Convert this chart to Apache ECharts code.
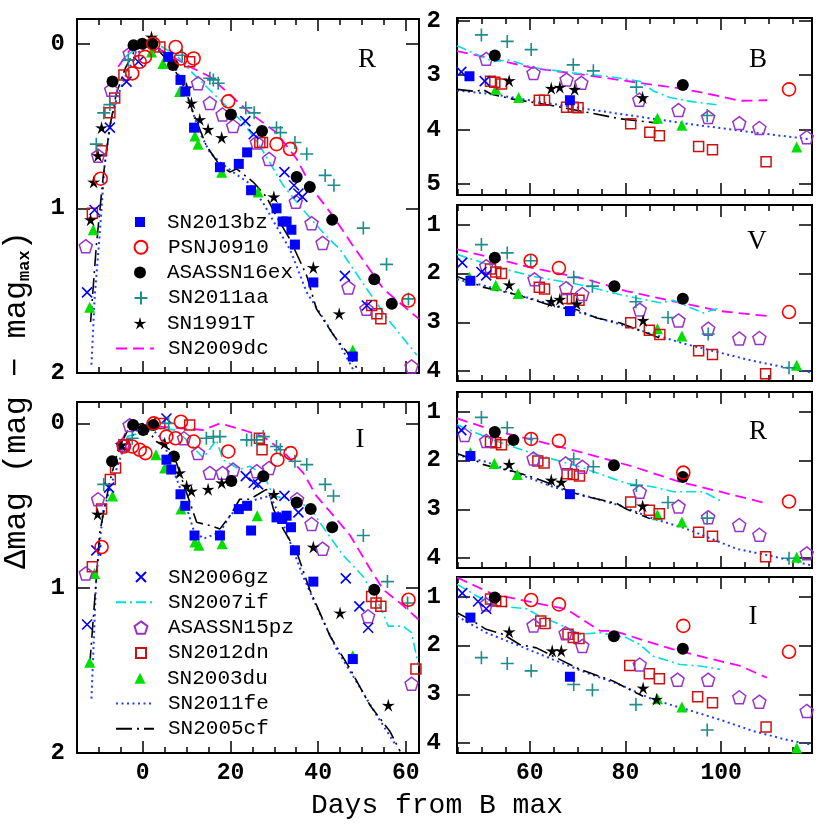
<!DOCTYPE html>
<html><head><meta charset="utf-8">
<script src="https://cdn.jsdelivr.net/npm/echarts@6/dist/echarts.min.js"></script>
<style>html,body{margin:0;padding:0;background:#fff}#c{width:830px;height:830px}</style>
</head><body><div id="c"></div>
<script>
// ===== DATA: [days from B max, delta mag] =====
// Left R panel
const LR_13bz=[[5.8,0.08],[8.6,0.22],[9.7,0.29],[11.7,0.51],[17.6,0.75],[21.9,0.73],[23.8,0.66],[24.7,0.89],[30.5,1.00],[31.9,1.08],[32.8,1.08],[33.9,1.13],[34.7,1.22],[38.9,1.45],[47.9,1.90]];
const LR_psn=[[-9.6,0.82],[-2.4,0.18],[-0.7,0.11],[0.5,0.08],[2.4,0.0],[7.5,0.02],[8.7,0.09],[11.6,0.09],[19.5,0.35],[30.5,0.61],[33.6,0.64],[60.6,1.56]];
const LR_16ex=[[-6.9,0.23],[-2.1,0.01],[-0.1,0.0],[2.2,0.0],[6.9,0.13],[20.1,0.43],[27.2,0.53],[35.1,0.81],[38.1,0.87],[43.2,1.07],[52.8,1.43],[56.8,1.58]];
const LR_11aa=[[-10.6,0.61],[-8.9,0.42],[-7.5,0.37],[-3.3,0.10],[9.0,0.07],[15.3,0.21],[16.1,0.22],[17.2,0.24],[23.5,0.39],[25.4,0.42],[30.5,0.51],[31.4,0.54],[34.7,0.60],[37.4,0.67],[41.6,0.80],[43.6,0.86],[50.3,1.12],[55.6,1.34],[60.6,1.55]];
const LR_91T=[[-11.9,1.07],[-11.2,0.84],[-10.2,0.68],[-9.4,0.51],[2.0,-0.04],[10.0,0.27],[11.1,0.36],[13.0,0.46],[14.9,0.52],[18.0,0.57],[29.9,0.93],[38.9,1.36],[44.8,1.64]];
const LR_06gz=[[-12.7,1.51],[-11.0,1.01],[-7.5,0.51],[-3.7,0.23],[-1.0,0.11],[23.4,0.47],[25.3,0.55],[32.3,0.78],[34.5,0.86],[35.5,0.91],[36.4,0.93],[46.1,1.41],[51.1,1.59]];
const LR_15pz=[[-13.0,1.23],[-10.2,0.68],[-7.2,0.28],[-3.0,0.06],[12.6,0.24],[15.3,0.36],[18.2,0.43],[20.6,0.50],[26.0,0.60],[28.8,0.70],[34.9,0.96],[38.5,1.09],[41.0,1.21],[46.9,1.48],[51.0,1.61],[61.3,1.96]];
const LR_12dn=[[-11.5,1.03],[-9.4,0.65],[-7.5,0.42],[-6.4,0.33],[-4.3,0.19],[3.9,0.02],[10.7,0.11],[26.7,0.60],[27.3,0.60],[52.2,1.59],[53.4,1.64],[54.3,1.67]];
const LR_03du=[[-12.1,1.60],[-11.3,1.13],[2.0,0.05],[4.6,0.12],[8.4,0.29],[11.9,0.56],[12.6,0.61],[18.0,0.78],[26.3,0.90],[47.9,1.86]];
const LR_09dc=[[-5.6,0.14],[-3.0,0.04],[1.6,0.0],[10.7,0.14],[15.3,0.20],[19.9,0.31],[24.4,0.42],[30.5,0.54],[35.1,0.70],[38.9,0.89],[43.5,1.05],[48.0,1.23],[54.9,1.49],[62.9,1.67]];
const LR_07if=[[-4.0,0.08],[-1.0,0.02],[3.1,0.0],[7.7,0.07],[10.7,0.16],[14.5,0.26],[18.3,0.36],[22.9,0.48],[26.7,0.62],[32.0,0.86],[36.6,1.01],[41.2,1.15],[45.0,1.25],[51.1,1.49],[56.4,1.69],[62.5,1.89]];
const LR_11fe=[[-11.7,1.95],[-11.0,1.55],[-9.8,1.15],[-8.7,0.74],[-7.5,0.50],[-6.0,0.34],[-3.7,0.18],[-1.4,0.06],[0.8,0.02],[3.9,0.03],[6.2,0.09],[8.4,0.20],[10.7,0.36],[13.0,0.54],[15.3,0.66],[17.6,0.72],[20.6,0.78],[24.4,0.85],[27.5,0.97],[30.5,1.11],[33.6,1.25],[37.4,1.51],[41.2,1.67],[45.0,1.83],[48.0,1.98]];
const LR_05cf=[[-11.9,1.69],[-10.6,1.23],[-9.0,0.80],[-7.5,0.50],[-6.0,0.30],[-4.0,0.15],[-2.0,0.05],[1.6,-0.02],[6.2,0.12],[9.2,0.24],[11.5,0.42],[14.5,0.62],[17.6,0.74],[19.9,0.78],[21.4,0.76],[25.2,0.84],[28.2,0.93],[30.5,1.05],[33.6,1.19],[37.4,1.41],[39.6,1.61],[43.5,1.77],[46.5,1.87],[49.5,2.0]];
// Left I panel
const LI_13bz=[[5.4,0.22],[6.5,0.28],[8.6,0.43],[9.7,0.50],[11.8,0.68],[17.6,0.68],[21.9,0.52],[23.8,0.50],[24.7,0.65],[30.5,0.57],[31.8,0.58],[32.8,0.56],[33.8,0.63],[34.7,0.77],[38.9,0.96],[47.9,1.43]];
const LI_psn=[[-9.4,0.75],[-4.3,0.14],[-2.4,0.14],[-0.7,0.16],[0.6,0.18],[2.5,0.0],[5.4,0.08],[7.5,0.09],[8.7,-0.01],[11.6,0.11],[19.5,0.17],[30.7,0.22],[33.7,0.18],[60.6,1.07]];
const LI_16ex=[[-7.0,0.23],[-2.2,0.01],[0.1,0.04],[2.4,0.01],[7.1,0.20],[20.2,0.35],[27.5,0.32],[35.1,0.48],[38.3,0.52],[43.2,0.63],[52.8,1.01]];
const LI_11aa=[[-8.9,0.37],[-2.4,0.09],[1.0,0.03],[5.9,0.0],[14.5,0.09],[16.1,0.08],[17.6,0.08],[23.7,0.10],[24.8,0.10],[26.0,0.10],[27.5,0.08],[30.5,0.14],[31.4,0.16],[34.7,0.23],[37.4,0.25],[41.6,0.37],[43.5,0.44],[50.3,0.68],[55.8,0.96],[60.4,1.09]];
const LI_91T=[[-10.3,0.55],[-4.9,0.13],[5.0,0.12],[8.4,0.30],[10.0,0.38],[11.1,0.41],[14.9,0.40],[18.0,0.36],[29.9,0.43],[38.9,0.75],[45.0,1.15],[56.0,1.71]];
const LI_06gz=[[-12.7,1.22],[-10.6,0.77],[-7.7,0.39],[-4.5,0.14],[5.4,-0.03],[23.5,0.32],[25.3,0.36],[26.3,0.37],[32.3,0.44],[35.5,0.54],[46.3,0.94],[49.4,1.11],[51.4,1.24]];
const LI_15pz=[[-13.0,0.91],[-10.2,0.46],[-4.5,0.13],[-3.0,0.01],[9.4,0.09],[12.6,0.18],[15.3,0.30],[18.2,0.30],[20.6,0.28],[26.0,0.29],[28.8,0.27],[35.2,0.46],[38.5,0.61],[41.0,0.76],[51.4,1.17],[61.3,1.58]];
const LI_12dn=[[-11.5,0.87],[-9.4,0.52],[-7.4,0.34],[-6.2,0.27],[-4.3,0.13],[3.9,0.0],[10.7,0.01],[26.6,0.09],[27.2,0.16],[52.2,1.05],[53.2,1.09],[54.3,1.11],[62.3,1.49]];
const LI_03du=[[-12.1,1.45],[-11.0,0.91],[-6.9,0.44],[3.0,0.19],[5.0,0.27],[8.7,0.52],[11.9,0.72],[12.8,0.74],[18.1,0.73],[26.1,0.56],[47.9,1.41]];
const LI_09dc=[[-5.0,0.12],[-3.0,0.0],[3.9,0.02],[13.8,0.04],[17.6,0.0],[22.9,0.04],[27.5,0.08],[32.0,0.17],[36.6,0.30],[39.6,0.44],[43.5,0.56],[47.3,0.68],[51.8,0.88],[54.9,1.01],[58.7,1.09],[62.9,1.19]];
const LI_07if=[[-3.7,0.08],[3.1,0.03],[7.7,0.04],[10.7,0.12],[13.8,0.21],[16.8,0.10],[18.3,0.22],[22.1,0.28],[24.4,0.26],[27.5,0.31],[29.8,0.44],[33.6,0.46],[38.1,0.51],[41.9,0.66],[45.7,0.80],[50.3,0.93],[54.1,1.11],[56.0,1.23],[59.4,1.23],[61.3,1.27],[62.9,1.47]];
const LI_11fe=[[-11.7,1.67],[-10.6,0.93],[-9.1,0.54],[-6.8,0.34],[-4.5,0.16],[-1.4,0.04],[1.6,0.02],[4.6,0.10],[6.9,0.28],[9.2,0.44],[11.5,0.64],[13.8,0.70],[17.6,0.66],[19.9,0.56],[22.1,0.50],[26.0,0.46],[29.0,0.44],[31.3,0.56],[33.6,0.72],[36.6,0.93],[39.6,1.11],[44.2,1.37],[48.8,1.57],[53.3,1.77],[57.9,1.96]];
const LI_05cf=[[-12.1,1.47],[-9.8,0.66],[-7.5,0.35],[-5.5,0.15],[-3.0,0.02],[0.0,0.0],[3.1,0.11],[6.2,0.16],[7.7,0.24],[9.2,0.36],[12.3,0.60],[15.3,0.62],[17.6,0.64],[19.9,0.56],[22.1,0.46],[24.4,0.46],[28.2,0.40],[29.0,0.44],[29.8,0.52],[32.0,0.64],[35.1,0.78],[38.1,1.01],[42.7,1.29],[47.3,1.49],[51.8,1.71],[56.4,1.87],[58.7,1.99]];
// Right B panel
const RB_13bz=[[47.4,3.02],[68.4,3.46]];
const RB_06gz=[[45.7,2.94],[50.6,3.11]];
const RB_psn=[[114.2,3.26]];
const RB_16ex=[[52.7,2.64],[92.0,3.18]];
const RB_11aa=[[49.9,2.26],[55.3,2.38],[60.3,2.53],[69.1,2.81],[73.3,2.92],[82.3,3.22],[97.1,3.74]];
const RB_91T=[[55.7,3.10],[64.5,3.24],[66.3,3.22],[69.4,3.26],[83.6,3.41]];
const RB_15pz=[[50.9,2.70],[60.8,2.96],[67.7,3.08],[70.8,3.14],[82.9,3.45],[91.1,3.64],[97.3,3.77],[103.8,3.88],[108.0,3.97],[117.9,4.14]];
const RB_12dn=[[51.8,3.11],[52.7,3.13],[54.1,3.16],[62.0,3.46],[63.1,3.46],[67.7,3.59],[69.1,3.59],[70.1,3.60],[81.1,3.89],[85.1,4.05],[87.1,4.11],[95.3,4.31],[98.2,4.37],[109.4,4.59]];
const RB_03du=[[52.9,3.26],[57.7,3.41],[86.7,3.79],[91.8,3.92],[115.8,4.32]];
const RB_09dc=[[44.8,2.56],[50.9,2.67],[60.7,2.87],[71.9,3.00],[84.4,3.16],[91.4,3.24],[97.7,3.35],[104.0,3.47],[109.6,3.46]];
const RB_07if=[[44.8,2.46],[52.3,2.75],[55.8,2.72],[60.7,2.86],[69.1,2.96],[76.1,3.02],[83.0,3.11],[85.8,3.29],[89.3,3.41],[94.2,3.49],[99.8,3.55]];
const RB_11fe=[[44.8,3.28],[52.3,3.35],[64.9,3.53],[78.8,3.71],[92.8,3.89],[106.7,4.05],[119.0,4.18]];
const RB_05cf=[[44.8,3.26],[48.8,3.30],[50.2,3.26],[52.0,3.35],[56.5,3.44],[64.9,3.56],[71.9,3.68],[78.8,3.80],[86.9,3.88]];
// Right V panel
const RV_13bz=[[47.6,2.15],[68.4,2.77]];
const RV_06gz=[[45.9,1.78],[49.9,1.97],[50.9,2.04]];
const RV_psn=[[60.2,1.74],[66.1,1.89],[114.2,2.79]];
const RV_16ex=[[52.7,1.68],[77.7,2.26],[92.0,2.52]];
const RV_11aa=[[49.9,1.41],[55.3,1.58],[60.2,1.74],[69.2,2.08],[73.1,2.26],[82.2,2.58],[88.9,2.90],[97.3,3.24],[114.2,3.93]];
const RV_91T=[[55.7,2.23],[64.5,2.57],[66.3,2.53],[69.8,2.62],[83.7,2.96]];
const RV_15pz=[[50.9,1.85],[61.0,2.12],[67.6,2.30],[71.0,2.42],[83.0,2.74],[91.1,2.96],[97.3,3.13],[103.8,3.33],[108.0,3.32]];
const RV_12dn=[[51.8,1.91],[52.9,1.97],[54.1,2.00],[62.0,2.28],[63.1,2.32],[67.7,2.51],[68.9,2.52],[70.3,2.55],[81.1,3.01],[85.0,3.16],[87.2,3.25],[95.3,3.58],[98.2,3.66],[109.3,4.05]];
const RV_03du=[[47.4,2.08],[52.9,2.24],[57.6,2.41],[86.7,3.13],[91.8,3.28],[115.8,3.88]];
const RV_09dc=[[44.8,1.51],[52.3,1.68],[60.7,1.89],[71.9,2.12],[80.2,2.36],[90.0,2.57],[99.8,2.77],[109.6,2.87]];
const RV_07if=[[44.8,1.61],[52.3,1.85],[60.7,2.06],[70.5,2.23],[78.8,2.43],[85.8,2.57],[87.2,2.60],[90.0,2.55],[96.3,2.81],[99.8,2.70]];
const RV_11fe=[[44.8,2.12],[50.9,2.26],[64.9,2.64],[78.8,3.04],[92.8,3.45],[106.7,3.79],[119.0,4.03]];
const RV_05cf=[[44.8,2.06],[48.1,2.19],[50.2,2.28],[52.3,2.33],[57.2,2.43],[64.9,2.67],[69.8,2.74],[74.0,2.91],[78.8,3.01],[87.2,3.32]];
// Right R panel
const RR_13bz=[[47.6,1.91],[68.4,2.69]];
const RR_06gz=[[45.7,1.38]];
const RR_psn=[[60.3,1.56],[66.1,1.60],[92.1,2.25],[114.2,2.84]];
const RR_16ex=[[52.7,1.42],[56.6,1.58],[77.6,2.10],[92.0,2.34]];
const RR_11aa=[[49.9,1.12],[55.3,1.33],[60.3,1.55],[69.2,1.97],[73.3,2.13],[82.3,2.51],[88.9,2.86],[97.1,3.18],[114.2,4.0]];
const RR_91T=[[55.7,2.08],[64.5,2.40],[66.6,2.44],[83.6,2.93]];
const RR_15pz=[[46.4,1.48],[50.9,1.60],[60.8,1.96],[67.5,2.06],[71.0,2.13],[83.0,2.64],[91.1,2.94],[97.3,3.16],[103.8,3.32],[108.0,3.52],[117.9,3.90]];
const RR_12dn=[[51.8,1.62],[52.9,1.64],[54.1,1.68],[61.7,2.01],[63.0,2.05],[67.8,2.27],[69.1,2.29],[70.4,2.32],[81.1,2.85],[85.0,3.02],[87.1,3.09],[95.3,3.47],[98.2,3.55],[109.3,3.97]];
const RR_03du=[[47.6,1.84],[52.6,2.06],[57.4,2.29],[86.7,3.11],[91.8,3.26],[115.8,3.98]];
const RR_09dc=[[44.8,1.14],[52.3,1.38],[60.7,1.58],[71.9,1.86],[81.7,2.13],[91.4,2.44],[99.8,2.64],[109.6,2.88]];
const RR_07if=[[44.8,1.27],[52.3,1.58],[60.7,1.86],[70.5,2.13],[80.2,2.47],[85.8,2.54],[90.0,2.64],[96.3,2.64],[99.8,2.82]];
const RR_11fe=[[44.8,1.89],[50.9,2.03],[64.9,2.54],[78.8,2.92],[85.8,3.19],[92.8,3.40],[103.3,3.81],[110.3,3.95],[119.0,4.15]];
const RR_05cf=[[44.8,1.86],[48.5,1.99],[50.2,2.08],[52.0,2.13],[56.5,2.22],[61.4,2.37],[64.2,2.47],[70.5,2.71],[78.2,2.88],[80.3,3.0],[85.1,3.19]];
// Right I panel
const RI_13bz=[[47.6,1.43],[68.4,2.64]];
const RI_06gz=[[45.9,0.93],[49.2,1.10],[50.9,1.25]];
const RI_psn=[[60.3,1.07],[66.1,1.16],[92.1,1.60],[114.2,2.13]];
const RI_16ex=[[52.7,1.02],[77.6,1.81],[92.0,2.07]];
const RI_11aa=[[49.9,2.25],[55.3,2.37],[60.3,2.52],[69.2,2.80],[73.1,2.91],[82.2,3.21],[97.1,3.73]];
const RI_91T=[[55.7,1.72],[64.7,2.11],[66.6,2.11],[83.7,2.87],[86.5,3.10]];
const RI_15pz=[[50.9,1.16],[60.8,1.59],[67.5,1.75],[71.0,2.01],[83.0,2.39],[90.9,2.70],[97.3,2.70],[103.8,3.06],[108.0,3.15],[117.9,3.34]];
const RI_12dn=[[51.8,1.05],[52.9,1.09],[54.1,1.10],[62.3,1.50],[63.2,1.55],[68.0,1.77],[69.1,1.84],[70.3,1.86],[80.9,2.41],[85.0,2.58],[87.1,2.68],[95.1,3.05],[98.2,3.17],[109.4,3.67]];
const RI_03du=[[86.7,3.09],[91.8,3.26],[115.8,4.10]];
const RI_09dc=[[44.8,0.61],[52.3,0.95],[60.7,1.12],[67.7,1.26],[74.7,1.70],[77.5,1.70],[83.0,1.87],[90.0,2.08],[95.6,2.22],[104.0,2.42],[109.6,2.66]];
const RI_07if=[[44.8,0.75],[52.3,1.18],[59.3,1.25],[62.1,1.40],[66.3,1.57],[70.5,1.77],[74.7,1.74],[80.2,1.84],[83.0,1.98],[85.8,2.22],[91.4,2.39],[95.6,2.42],[99.8,2.49]];
const RI_11fe=[[44.8,1.40],[50.9,1.74],[57.9,2.01],[64.9,2.29],[71.9,2.56],[78.8,2.80],[85.8,3.11],[92.8,3.31],[99.8,3.52],[106.7,3.75],[113.7,3.93],[119.0,4.03]];
const RI_05cf=[[44.8,1.33],[48.1,1.50],[50.9,1.67],[54.4,1.77],[57.9,1.98],[61.4,2.05],[64.9,2.22],[70.5,2.49],[77.5,2.73],[78.8,2.80],[83.7,3.04]];

// tick labels and legend entries
const LEFT_XTICKS=[0,20,40,60];
const RIGHT_XTICKS=[60,80,100];
const LEFT_YTICKS=[0,1,2];
const B_YTICKS=[2,3,4,5];
const VRI_YTICKS=[1,2,3,4];
const LEGEND1=['SN2013bz','PSNJ0910','ASASSN16ex','SN2011aa','SN1991T','SN2009dc'];
const LEGEND2=['SN2006gz','SN2007if','ASASSN15pz','SN2012dn','SN2003du','SN2011fe','SN2005cf'];

// ===== build =====
const DATA={
  LR:{SN2009dc:LR_09dc,SN2007if:LR_07if,SN2011fe:LR_11fe,SN2005cf:LR_05cf,SN2013bz:LR_13bz,PSNJ0910:LR_psn,ASASSN16ex:LR_16ex,SN2011aa:LR_11aa,SN1991T:LR_91T,SN2006gz:LR_06gz,ASASSN15pz:LR_15pz,SN2012dn:LR_12dn,SN2003du:LR_03du},
  LI:{SN2009dc:LI_09dc,SN2007if:LI_07if,SN2011fe:LI_11fe,SN2005cf:LI_05cf,SN2013bz:LI_13bz,PSNJ0910:LI_psn,ASASSN16ex:LI_16ex,SN2011aa:LI_11aa,SN1991T:LI_91T,SN2006gz:LI_06gz,ASASSN15pz:LI_15pz,SN2012dn:LI_12dn,SN2003du:LI_03du},
  RB:{SN2009dc:RB_09dc,SN2007if:RB_07if,SN2011fe:RB_11fe,SN2005cf:RB_05cf,SN2013bz:RB_13bz,PSNJ0910:RB_psn,ASASSN16ex:RB_16ex,SN2011aa:RB_11aa,SN1991T:RB_91T,SN2006gz:RB_06gz,ASASSN15pz:RB_15pz,SN2012dn:RB_12dn,SN2003du:RB_03du},
  RV:{SN2009dc:RV_09dc,SN2007if:RV_07if,SN2011fe:RV_11fe,SN2005cf:RV_05cf,SN2013bz:RV_13bz,PSNJ0910:RV_psn,ASASSN16ex:RV_16ex,SN2011aa:RV_11aa,SN1991T:RV_91T,SN2006gz:RV_06gz,ASASSN15pz:RV_15pz,SN2012dn:RV_12dn,SN2003du:RV_03du},
  RR:{SN2009dc:RR_09dc,SN2007if:RR_07if,SN2011fe:RR_11fe,SN2005cf:RR_05cf,SN2013bz:RR_13bz,PSNJ0910:RR_psn,ASASSN16ex:RR_16ex,SN2011aa:RR_11aa,SN1991T:RR_91T,SN2006gz:RR_06gz,ASASSN15pz:RR_15pz,SN2012dn:RR_12dn,SN2003du:RR_03du},
  RI:{SN2009dc:RI_09dc,SN2007if:RI_07if,SN2011fe:RI_11fe,SN2005cf:RI_05cf,SN2013bz:RI_13bz,PSNJ0910:RI_psn,ASASSN16ex:RI_16ex,SN2011aa:RI_11aa,SN1991T:RI_91T,SN2006gz:RI_06gz,ASASSN15pz:RI_15pz,SN2012dn:RI_12dn,SN2003du:RI_03du}
};

const STAR=(function(){let s='path://';for(let i=0;i<10;i++){const r=i%2?3.4:10;const a=-Math.PI/2+i*Math.PI/5;s+=(i?'L':'M')+(10+r*Math.cos(a)).toFixed(2)+','+(10+r*Math.sin(a)).toFixed(2);}return s+'Z';})();
const PLUS='path://M0,5L10,5M5,0L5,10';
const XMARK='path://M0,0L10,10M10,0L0,10';
const PENT='path://M10,0L19.51,6.91L15.88,18.09L4.12,18.09L0.49,6.91Z';
const NOF='rgba(0,0,0,0)';
const STYLE={
  SN2009dc:{line:true,color:'#ff00ff',dash:[11,6],w:1.8},
  SN2007if:{line:true,color:'#00dede',dash:[10,4,2,4],w:1.6},
  SN2011fe:{line:true,color:'#1f3cff',dash:[2,3.5],w:2},
  SN2005cf:{line:true,color:'#000000',dash:[16,5,2,5],w:1.6},
  SN2013bz:{symbol:'rect',size:10,color:'#0000ff'},
  PSNJ0910:{symbol:'circle',size:13,color:NOF,border:'#ff0000',bw:1.6},
  ASASSN16ex:{symbol:'circle',size:12,color:'#000000'},
  SN2011aa:{symbol:PLUS,size:13,color:NOF,border:'#1e8c8c',bw:1.6},
  SN1991T:{symbol:STAR,size:13,color:'#000000'},
  SN2006gz:{symbol:XMARK,size:10,color:NOF,border:'#0000ff',bw:1.6},
  ASASSN15pz:{symbol:PENT,size:13,color:NOF,border:'#9932cc',bw:1.5},
  SN2012dn:{symbol:'rect',size:10,color:NOF,border:'#cc1111',bw:1.5},
  SN2003du:{symbol:'triangle',size:11,color:'#00e000'}
};
const ORDER=['SN2009dc','SN2007if','SN2011fe','SN2005cf','SN2003du','SN2012dn','ASASSN15pz','SN2006gz','SN1991T','SN2011aa','ASASSN16ex','PSNJ0910','SN2013bz'];

function steps(a,b,s){const r=[];for(let v=a;v<=b+1e-9;v+=s)r.push(v);return r;}
const PANELS=[
 {id:'LR',left:77,top:19,width:342,height:354,x:[-15,63],y:[-0.15,2.0],xMaj:LEFT_XTICKS,xMin:steps(-15,60,5),yMaj:LEFT_YTICKS,xLab:false,yMargin:12,letter:'R',lx:367,ly:60},
 {id:'LI',left:77,top:402,width:342,height:351,x:[-15,63],y:[-0.13,2.0],xMaj:LEFT_XTICKS,xMin:steps(-15,60,5),yMaj:LEFT_YTICKS,xLab:true,yMargin:12,letter:'I',lx:360,ly:440},
 {id:'RB',left:457,top:18,width:355,height:177,x:[44.8,119],y:[1.95,5.2],xMaj:RIGHT_XTICKS,xMin:steps(45,115,5),yMaj:B_YTICKS,xLab:false,yMargin:16,letter:'B',lx:758,ly:60},
 {id:'RV',left:457,top:205,width:355,height:176,x:[44.8,119],y:[0.6,4.2],xMaj:RIGHT_XTICKS,xMin:steps(45,115,5),yMaj:VRI_YTICKS,xLab:false,yMargin:16,letter:'V',lx:757,ly:242},
 {id:'RR',left:457,top:392,width:355,height:176,x:[44.8,119],y:[0.6,4.2],xMaj:RIGHT_XTICKS,xMin:steps(45,115,5),yMaj:VRI_YTICKS,xLab:false,yMargin:16,letter:'R',lx:758,ly:432},
 {id:'RI',left:457,top:577,width:355,height:176,x:[44.8,119],y:[0.6,4.2],xMaj:RIGHT_XTICKS,xMin:steps(45,115,5),yMaj:VRI_YTICKS,xLab:true,yMargin:16,letter:'I',lx:753,ly:617}
];
const FONT='Liberation Mono';
const grid=[],xAxis=[],yAxis=[],series=[],graphic=[];
PANELS.forEach((p,g)=>{
  grid.push({left:p.left,top:p.top,width:p.width,height:p.height,show:true,borderColor:'#000',borderWidth:2,backgroundColor:'rgba(0,0,0,0)'});
  const base={type:'value',gridIndex:g,min:p.x[0],max:p.x[1],axisLine:{show:false,onZero:false},splitLine:{show:false}};
  const tk=(len,vals)=>({show:true,inside:true,length:len,customValues:vals,lineStyle:{color:'#000',width:1.5}});
  xAxis.push(Object.assign({},base,{position:'bottom',axisTick:tk(12,p.xMaj),axisLabel:{show:p.xLab,customValues:p.xMaj,margin:9,fontFamily:FONT,fontSize:23,fontWeight:'bold',color:'#000'}}));
  xAxis.push(Object.assign({},base,{position:'bottom',axisTick:tk(6,p.xMin),axisLabel:{show:false}}));
  xAxis.push(Object.assign({},base,{position:'top',axisTick:tk(12,p.xMaj),axisLabel:{show:false}}));
  xAxis.push(Object.assign({},base,{position:'top',axisTick:tk(6,p.xMin),axisLabel:{show:false}}));
  const yb={type:'value',gridIndex:g,inverse:true,min:p.y[0],max:p.y[1],axisLine:{show:false,onZero:false},splitLine:{show:false}};
  yAxis.push(Object.assign({},yb,{position:'left',axisTick:tk(13,p.yMaj),axisLabel:{show:true,customValues:p.yMaj,margin:p.yMargin,fontFamily:FONT,fontSize:24,fontWeight:'bold',color:'#000'}}));
  yAxis.push(Object.assign({},yb,{position:'right',axisTick:tk(13,p.yMaj),axisLabel:{show:false}}));
  ORDER.forEach(name=>{
    const st=STYLE[name];const d=DATA[p.id][name];if(!d)return;
    if(st.line){
      series.push({name:name,type:'line',xAxisIndex:4*g,yAxisIndex:2*g,data:d,symbol:'none',z:2,silent:true,
        lineStyle:{color:st.color,width:st.w,type:st.dash},itemStyle:{color:st.color},emphasis:{disabled:true}});
    }else{
      series.push({name:name,type:'scatter',xAxisIndex:4*g,yAxisIndex:2*g,data:d,symbol:st.symbol,symbolSize:st.size,z:3,silent:true,
        itemStyle:{color:st.color,borderColor:st.border||st.color,borderWidth:st.border?st.bw:0,opacity:1},emphasis:{disabled:true}});
    }
  });
  graphic.push({type:'text',x:p.lx,y:p.ly,style:{text:p.letter,font:'27px "Liberation Serif"',fill:'#000',textAlign:'center',textVerticalAlign:'middle'}});
});
graphic.push({type:'text',x:437,y:806,style:{text:'Days from B max',fontFamily:FONT,fontSize:28,fill:'#000',textAlign:'center',textVerticalAlign:'middle'}});
graphic.push({type:'text',x:17,y:400,rotation:Math.PI/2,style:{text:'{a|Δmag (mag − mag}{s|max}{a|)}',textAlign:'center',textVerticalAlign:'middle',
  rich:{a:{fontFamily:FONT,fontSize:32,color:'#000'},s:{fontFamily:FONT,fontSize:17,fontWeight:'bold',color:'#000',padding:[16,0,0,0]}}}});

// one legend component per entry so each icon keeps its own size
const legend=[];
function addLegend(names,y0){
  names.forEach((name,i)=>{
    const st=STYLE[name];const cy=y0+i*25.3;
    const common={orient:'horizontal',top:cy-10.5,padding:0,selectedMode:false,data:[name],itemGap:0};
    if(st.line){
      legend.push(Object.assign(common,{left:115,itemWidth:38,itemHeight:12,itemStyle:{opacity:0},
        textStyle:{fontFamily:FONT,fontSize:21,color:'#000',padding:[0,0,0,9]}}));
    }else{
      const s=Math.max(10,st.size);
      legend.push(Object.assign(common,{left:140-s/2,itemWidth:s,itemHeight:s,
        textStyle:{fontFamily:FONT,fontSize:21,color:'#000',padding:[0,0,0,167-(140+s/2+5)]}}));
    }
  });
}
addLegend(LEGEND1,222);
addLegend(LEGEND2,577);

const chart=echarts.init(document.getElementById('c'),null,{renderer:'canvas'});
chart.setOption({animation:false,backgroundColor:'#fff',grid,xAxis,yAxis,series,legend,graphic});
</script>
</body></html>
